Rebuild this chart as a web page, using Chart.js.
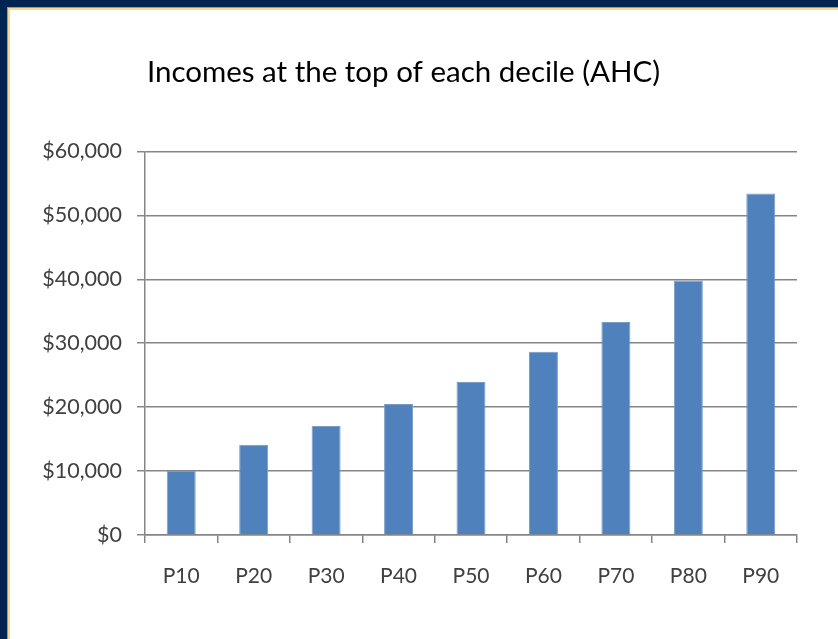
<!DOCTYPE html>
<html>
<head>
<meta charset="utf-8">
<script src="https://cdn.jsdelivr.net/npm/chart.js@4"></script>
<style>
  body { margin: 0; background: #fff; }
  #frame { position: absolute; left: 0; top: 0; width: 838px; height: 639px; background: #002451; overflow: hidden; }
  #gold1 { position: absolute; left: 7px; top: 7px; right: 0; bottom: 0; background: #C49A18; }
  #gold2 { position: absolute; left: 8px; top: 8px; right: 0; bottom: 0; background: #F9D98A; }
  #inner { position: absolute; left: 10px; top: 10px; width: 828px; height: 629px; background: #fff; }
</style>
</head>
<body>
<div id="frame"><div id="gold1"></div><div id="gold2"></div>
  <div id="inner"><canvas id="chart" width="828" height="629"></canvas></div>
</div>
<script>
const TITLE = "Incomes at the top of each decile (AHC)";
const deciles = ["P10", "P20", "P30", "P40", "P50", "P60", "P70", "P80", "P90"];
const incomes = [10000, 14100, 17050, 20500, 23950, 28650, 33300, 39800, 53400];
const yTicks = [0, 10000, 20000, 30000, 40000, 50000, 60000];

const GRID = '#868686';
const TEXT = '#404040';

const ctx = document.getElementById('chart').getContext('2d');

const chart = new Chart(ctx, {
    type: 'bar',
    data: {
        labels: deciles,
        datasets: [{
            label: 'Income',
            data: incomes,
            backgroundColor: '#4F81BD',
            borderColor: '#7C9CC6',
            borderWidth: 1,
            categoryPercentage: 1,
            barPercentage: 0.4
        }]
    },
    options: {
        responsive: false,
        animation: false,
        layout: { padding: { left: 0, right: 41, top: 0, bottom: 0 } },
        plugins: {
            legend: { display: false },
            tooltip: { enabled: false },
            title: {
                display: true,
                text: TITLE,
                color: '#000',
                font: { family: 'Lato', size: 29.5, weight: 'normal' },
                padding: { top: 45, bottom: 61 }
            }
        },
        scales: {
            x: {
                grid: { display: true, drawOnChartArea: false, color: GRID, lineWidth: 1.5, tickLength: 8, offset: true },
                border: { display: true, color: GRID, width: 1.5 },
                ticks: { color: TEXT, font: { family: 'Lato', size: 21 }, padding: 21, maxRotation: 0 },
                afterFit: s => { s.height = 104; }
            },
            y: {
                min: 0,
                max: yTicks[yTicks.length - 1],
                afterBuildTicks: s => { s.ticks = yTicks.map(v => ({ value: v })); },
                grid: { color: GRID, lineWidth: 1.5, tickLength: 8 },
                border: { display: true, color: GRID, width: 1.5 },
                ticks: {
                    color: TEXT,
                    font: { family: 'Lato', size: 21.5 },
                    padding: 15,
                    callback: v => '$' + v.toLocaleString('en-US')
                },
                afterFit: s => { s.width = 135; }
            }
        }
    }
});
</script>
</body>
</html>
